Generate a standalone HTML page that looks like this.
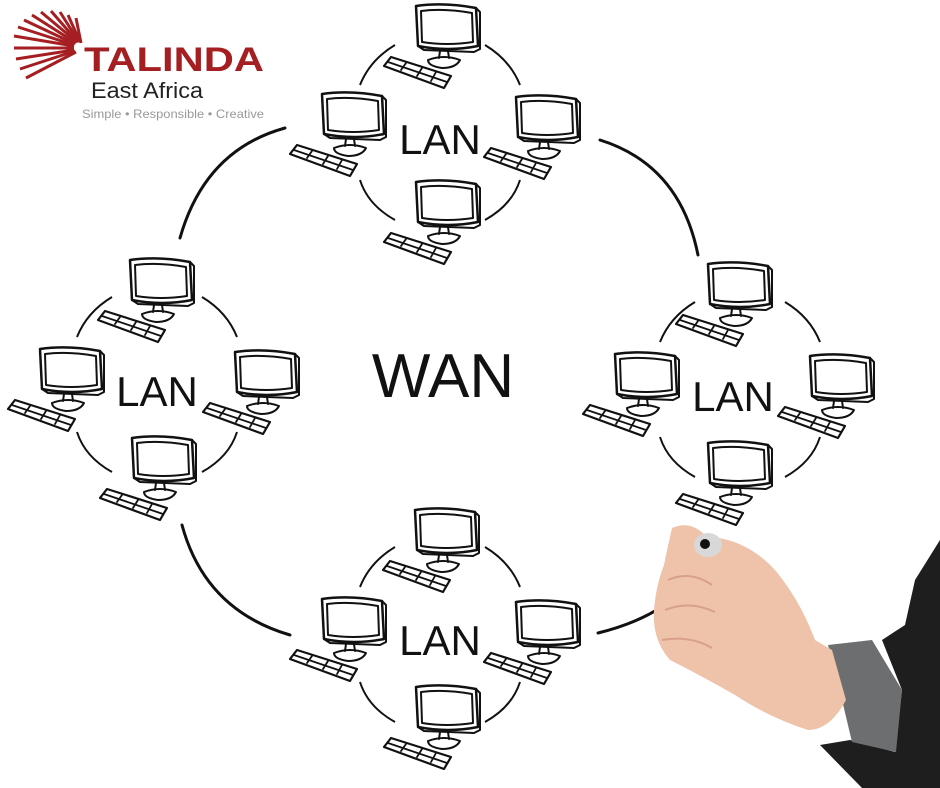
<!DOCTYPE html>
<html><head><meta charset="utf-8"><style>
body{margin:0;background:#fff;width:940px;height:788px;overflow:hidden}
svg{display:block}
</style></head><body>
<svg width="940" height="788" viewBox="0 0 940 788" xmlns="http://www.w3.org/2000/svg">
<defs>
<g id="pc" fill="none" stroke="#111" stroke-linecap="round" stroke-linejoin="round">
  <path d="M2,4 Q30,0 62,6 L64,44 Q34,50 4,44 Z" stroke-width="2.5" fill="#fff"/>
  <path d="M7,9 Q30,6 58,11 L59,40 Q33,44 8,40 Z" stroke-width="2"/>
  <path d="M62,6 L66,10 L66,47 L60,50 M4,44 L10,48 L60,50" stroke-width="2"/>
  <path d="M26,49 L25,56 M34,49 L35,56" stroke-width="2"/>
  <path d="M14,58 Q30,52 46,58 Q42,66 28,66 Q14,64 14,58" stroke-width="2"/>
  <path d="M-30,64 L-23,55 L37,74 L30,86 Z" stroke-width="2.2"/>
  <path d="M-26,60 L33,80 M-8,61 L-13,68 M8,66 L3,74 M22,70 L17,79" stroke-width="1.8"/>
</g>
<g id="lan" fill="none" stroke="#111" stroke-width="2">
  <path d="M-80,-55 Q-70,-80 -45,-95"/>
  <path d="M45,-95 Q70,-80 80,-55"/>
  <path d="M-80,40 Q-72,65 -45,80"/>
  <path d="M45,80 Q72,65 80,40"/>
</g>
</defs>

<g fill="none" stroke="#111" stroke-width="3" stroke-linecap="round">
  <path d="M285,128 Q205,150 180,238"/>
  <path d="M600,140 Q680,165 698,255"/>
  <path d="M182,525 Q205,610 290,635"/>
  <path d="M598,633 Q690,610 705,548"/>
</g>

<use href="#lan" x="440" y="140"/>
<use href="#pc" x="414" y="2"/><use href="#pc" x="320" y="90"/><use href="#pc" x="514" y="93"/><use href="#pc" x="414" y="178"/>
<use href="#lan" x="157" y="392"/>
<use href="#pc" x="128" y="256"/><use href="#pc" x="38" y="345"/><use href="#pc" x="233" y="348"/><use href="#pc" x="130" y="434"/>
<use href="#lan" x="740" y="397"/>
<use href="#pc" x="706" y="260"/><use href="#pc" x="613" y="350"/><use href="#pc" x="808" y="352"/><use href="#pc" x="706" y="439"/>
<use href="#lan" x="440" y="642"/>
<use href="#pc" x="413" y="506"/><use href="#pc" x="320" y="595"/><use href="#pc" x="514" y="598"/><use href="#pc" x="414" y="683"/>

<g font-family="Liberation Sans, sans-serif" fill="#111">
  <text x="440" y="154" font-size="42" text-anchor="middle">LAN</text>
  <text x="157" y="406" font-size="42" text-anchor="middle">LAN</text>
  <text x="733" y="411" font-size="42" text-anchor="middle">LAN</text>
  <text x="440" y="655" font-size="42" text-anchor="middle">LAN</text>
  <text x="443" y="397" font-size="62" text-anchor="middle">WAN</text>
</g>

<path d="M915,580 L940,540 L940,788 L862,788 L820,745 L850,740 L895,752 L902,690 L882,640 L905,625 Z" fill="#1e1e1e"/>
<path d="M828,645 L872,640 L902,690 L896,752 L852,742 L842,700 Z" fill="#6c6e70"/>
<path d="M672,528 Q690,520 705,535 L728,540 Q755,548 775,570 Q800,600 815,640 L832,650 L846,700 Q830,730 808,730 Q770,718 735,695 Q700,675 670,660 Q652,640 654,610 Q656,585 664,565 Q668,545 672,528 Z" fill="#efc3aa"/>
<path d="M665,610 Q690,600 715,612 M662,640 Q690,635 712,648 M668,580 Q690,570 712,585" fill="none" stroke="#d9a088" stroke-width="2"/>
<ellipse cx="708" cy="545" rx="14" ry="12" fill="#d8d8d8"/>
<circle cx="705" cy="544" r="5" fill="#111"/>

<g stroke="#a51e22" stroke-width="3" stroke-linecap="butt">
  <line x1="74" y1="46" x2="14" y2="36"/>
  <line x1="74" y1="45" x2="18" y2="27"/>
  <line x1="75" y1="44" x2="24" y2="20"/>
  <line x1="76" y1="43" x2="32" y2="15"/>
  <line x1="77" y1="42" x2="41" y2="12"/>
  <line x1="78" y1="42" x2="51" y2="11"/>
  <line x1="79" y1="42" x2="60" y2="12"/>
  <line x1="80" y1="42" x2="68" y2="15"/>
  <line x1="81" y1="43" x2="76" y2="18"/>
  <line x1="74" y1="48" x2="14" y2="48"/>
  <line x1="74" y1="50" x2="16" y2="59"/>
  <line x1="75" y1="51" x2="20" y2="69"/>
  <line x1="76" y1="52" x2="26" y2="78"/>
</g>
<text x="84" y="71" font-family="Liberation Sans, sans-serif" font-weight="bold" font-size="34" fill="#a51e22" textLength="180" lengthAdjust="spacingAndGlyphs">TALINDA</text>
<text x="91" y="98" font-family="Liberation Sans, sans-serif" font-size="22" fill="#222" textLength="112" lengthAdjust="spacingAndGlyphs">East Africa</text>
<text x="82" y="118" font-family="Liberation Sans, sans-serif" font-size="12" fill="#999" textLength="182" lengthAdjust="spacingAndGlyphs">Simple • Responsible • Creative</text>
</svg>
</body></html>
